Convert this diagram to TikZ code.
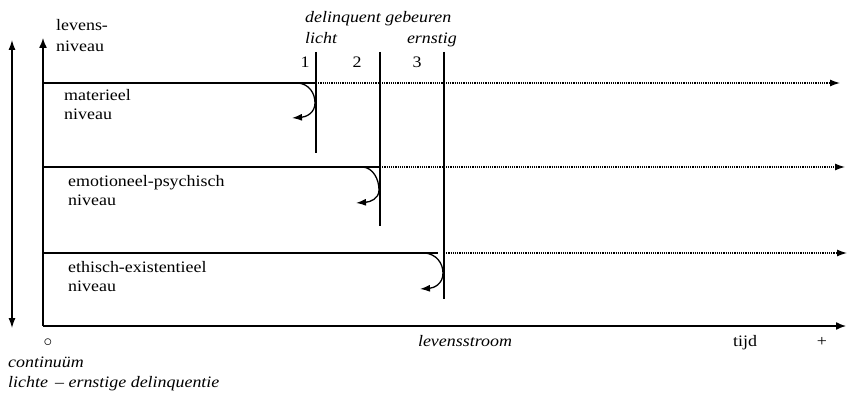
\documentclass[tikz,border=0pt]{standalone}
\usepackage{fontspec}
\setmainfont{Liberation Serif}[FakeStretch=1.12]
\usetikzlibrary{arrows.meta}

\begin{document}
\begin{tikzpicture}[x=1pt,y=-1pt,
      txt/.style={anchor=base west,inner sep=0pt,font=\fontsize{16}{19}\selectfont},
      ital/.style={txt,font=\fontsize{16}{19}\selectfont\itshape},
      axis/.style={line width=1.4pt,-{Latex[length=10pt,width=8pt]}},
      level/.style={line width=1.3pt},
      dots/.style={line width=1.3pt,dash pattern=on 1.1pt off 1.1pt,-{Latex[length=10pt,width=7pt]}},
      grens/.style={line width=1.8pt},
      bocht/.style={line width=1.3pt,-{Latex[length=10pt,width=7pt]}}]
      \useasboundingbox (0,0) rectangle (848,393);
      % assen
      \coordinate (o) at (43,326);
      \coordinate (ytop) at (43,38);
      \coordinate (xend) at (846,326);
      \coordinate (cb) at (12,328);
      \coordinate (ct) at (12,40);
      \draw [axis] (o) -- (ytop);
      \draw [axis] (o) -- (xend);
      \draw [line width=1.3pt,{Latex[length=10pt,width=7pt]}-{Latex[length=10pt,width=7pt]}] (cb) -- (ct);
      % grenzen
      \coordinate (g1t) at (316,52);
      \coordinate (g1b) at (316,153);
      \coordinate (g2t) at (380,52);
      \coordinate (g2b) at (380,226);
      \coordinate (g3t) at (444,52);
      \coordinate (g3b) at (444,299);
      \draw [grens] (g1t) -- (g1b);
      \draw [grens] (g2t) -- (g2b);
      \draw [grens] (g3t) -- (g3b);
      % niveaus
      \coordinate (l1s) at (43,83);
      \coordinate (l1e) at (316,83);
      \coordinate (l1a) at (840,83);
      \coordinate (l2s) at (43,167);
      \coordinate (l2e) at (380,167);
      \coordinate (l2a) at (845,167);
      \coordinate (l3s) at (43,253);
      \coordinate (l3e) at (438,253);
      \coordinate (l3d) at (444,253);
      \coordinate (l3a) at (847,253);
      \draw [level] (l1s) -- (l1e);
      \draw [dots] (l1e) -- (l1a);
      \draw [level] (l2s) -- (l2e);
      \draw [dots] (l2e) -- (l2a);
      \draw [level] (l3s) -- (l3e);
      \draw [dots] (l3d) -- (l3a);
      % bochten
      \coordinate (b1a) at (267,83);
      \coordinate (b1b) at (298,83);
      \coordinate (b1c) at (315,103);
      \coordinate (b1d) at (292,118);
      \draw [bocht] (b1a) -- (b1b) .. controls (309,84) and (315,93) .. (b1c) .. controls (315,113) and (306,117) .. (b1d);
      \coordinate (b2a) at (330,167);
      \coordinate (b2b) at (363,167);
      \coordinate (b2c) at (379,190);
      \coordinate (b2d) at (356,203);
      \draw [bocht] (b2a) -- (b2b) .. controls (373,168) and (379,179) .. (b2c) .. controls (379,199) and (370,202) .. (b2d);
      \coordinate (b3a) at (395,253);
      \coordinate (b3b) at (425,253);
      \coordinate (b3c) at (443,273);
      \coordinate (b3d) at (420,289);
      \draw [bocht] (b3a) -- (b3b) .. controls (436,254) and (443,263) .. (b3c) .. controls (443,284) and (434,288) .. (b3d);
      % teksten
      \node [txt] (lev) at (56,31) {levens-};
      \node [txt] (niv) at (56,52) {niveau};
      \node [ital] (del) at (305,23) {delinquent gebeuren};
      \node [ital] (licht) at (305,44) {licht};
      \node [ital,anchor=base east] (ernstig) at (457,44) {ernstig};
      \node [txt,anchor=base] (n1) at (305,68) {1};
      \node [txt,anchor=base] (n2) at (357,68) {2};
      \node [txt,anchor=base] (n3) at (417,68) {3};
      \node [txt] (mat) at (64,101) {materieel};
      \node [txt] (mat2) at (64,120) {niveau};
      \node [txt] (emo) at (68,186) {emotioneel-psychisch};
      \node [txt] (emo2) at (68,205) {niveau};
      \node [txt] (eth) at (68,272) {ethisch-existentieel};
      \node [txt] (eth2) at (68,291) {niveau};
      \node [txt,anchor=base] (nul) at (48,346) {$\circ$};
      \node [ital,anchor=base] (stroom) at (465,346) {levensstroom};
      \node [txt,anchor=base] (tijd) at (745,346) {tijd};
      \node [txt,anchor=base] (plus) at (822,346) {+};
      \node [ital] (cont) at (8,367) {continuüm};
      \node [ital] (lichte) at (8,387) {lichte \,-- ernstige delinquentie};
\end{tikzpicture}
\end{document}
